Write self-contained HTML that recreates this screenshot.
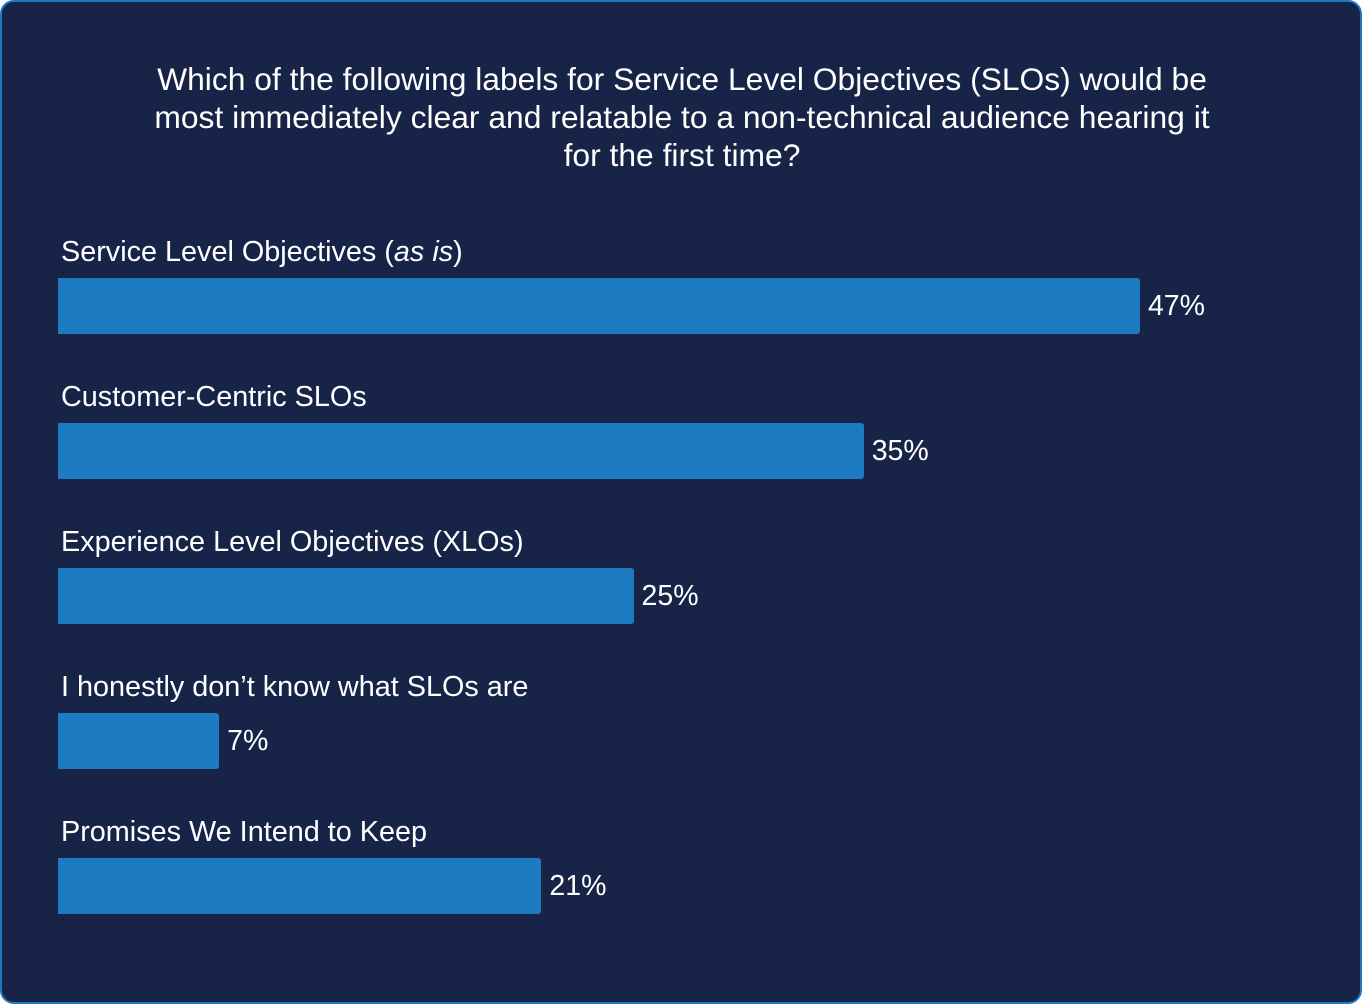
<!DOCTYPE html>
<html><head><meta charset="utf-8"><style>
html,body{margin:0;padding:0;background:#fff;}
#card{position:absolute;left:0;top:0;width:1358px;height:1000px;border:2px solid #1f78c1;border-radius:14px;background:#172447;overflow:hidden;font-family:"Liberation Sans",sans-serif;color:#fff;}
#title{position:absolute;left:60px;width:1240px;top:58px;text-align:center;font-size:31.8px;line-height:38px;white-space:nowrap;}
.lbl{position:absolute;left:59px;font-size:28.8px;white-space:nowrap;}
.bar{position:absolute;left:56px;height:56px;background:#1f7bc1;border-radius:0 3px 3px 0;}
.val{position:absolute;font-size:28.5px;}
</style></head><body>
<div id="card">
<div id="title">Which of the following labels for Service Level Objectives (SLOs) would be<br>most immediately clear and relatable to a non-technical audience hearing it<br>for the first time?</div>
</div>
<script>
const categories = ["Service Level Objectives (<i>as is</i>)","Customer-Centric SLOs","Experience Level Objectives (XLOs)","I honestly don\u2019t know what SLOs are","Promises We Intend to Keep"];
const values = [47,35,25,7,21];
const valueLabels = ["47%","35%","25%","7%","21%"];
const card = document.getElementById('card');
const x = v => v * 23.02;
const rowTop = i => 276 + i * 145;
values.forEach((v,i)=>{
  const l=document.createElement('div');
  l.className='lbl'; l.innerHTML=categories[i]; l.style.top=(rowTop(i)-42)+'px';
  
  
  card.appendChild(l);
  const b=document.createElement('div');
  b.className='bar'; b.style.top=rowTop(i)+'px'; b.style.width=x(v)+'px';
  
  
  card.appendChild(b);
  const t=document.createElement('div');
  t.className='val'; t.textContent=valueLabels[i];
  t.style.left=(56+x(v)+8)+'px'; t.style.top=(rowTop(i)+12)+'px';
  
  
  card.appendChild(t);
});
</script>
</body></html>
